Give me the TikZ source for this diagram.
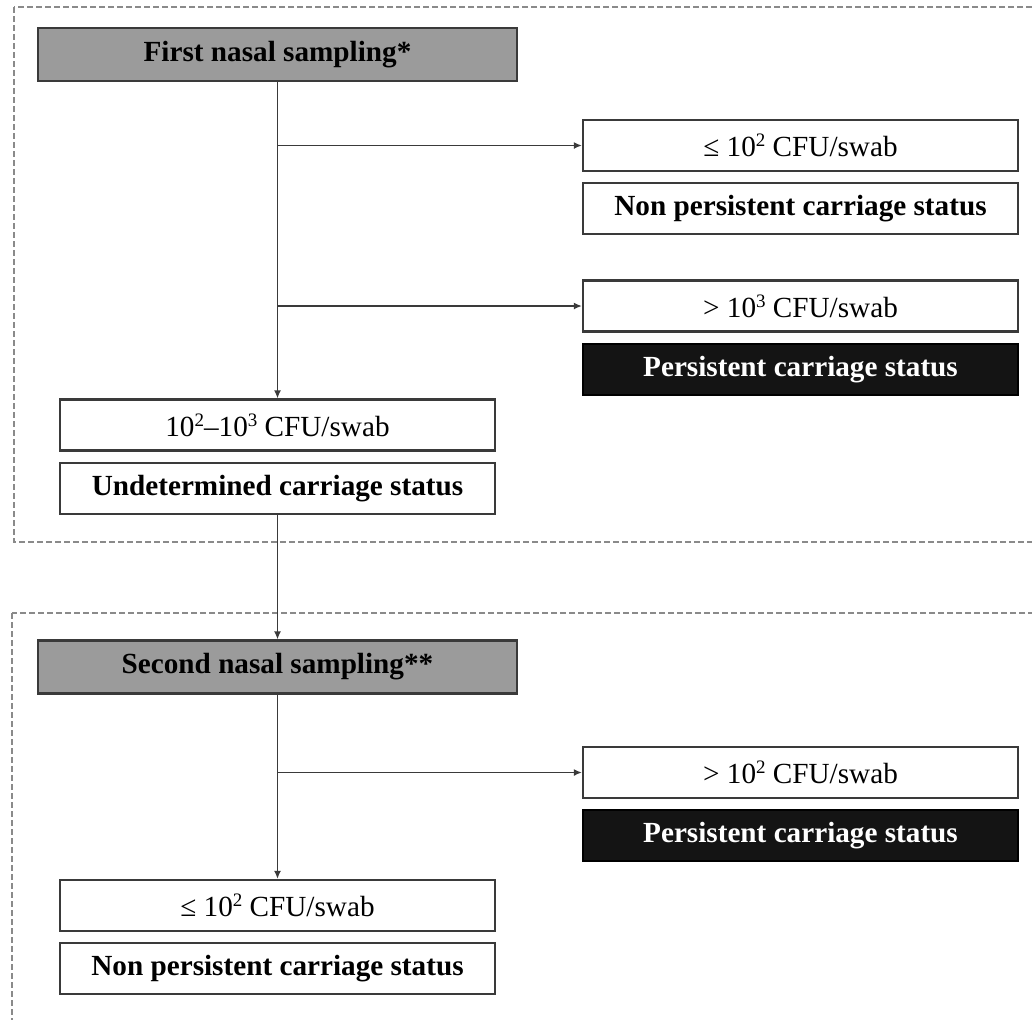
\documentclass[tikz,border=0pt]{standalone}
\usepackage{fontspec}
\setmainfont{Liberation Serif}
\usepackage{tikz}
\usetikzlibrary{arrows.meta,positioning,calc}
\definecolor{hdr}{HTML}{9B9B9B}
\definecolor{edge}{HTML}{3A3A3A}
\definecolor{frm}{HTML}{8A8A8A}
\tikzset{
  >={Latex[length=4pt,width=3.5pt]},
  box/.style={draw=edge,line width=1.1pt,minimum width=217.5pt,minimum height=25.5pt,inner sep=1pt,font=\fontsize{14.6}{16}\selectfont,align=center,fill=white},
  bbox/.style={box,font=\fontsize{14.6}{16}\selectfont\bfseries},
  hbox/.style={bbox,fill=hdr,minimum width=239.5pt,minimum height=26.5pt},
  kbox/.style={bbox,fill=black!92,draw=black,text=white},
  arr/.style={->,draw=edge,line width=0.9pt},
  frame/.style={draw=frm,line width=0.7pt,dash pattern=on 3pt off 1.5pt},
}
\newcommand{\pw}[1]{\raisebox{0.35em}{\fontsize{9.5}{10}\selectfont #1}}
\begin{document}
\begin{tikzpicture}[x=0.5pt,y=-0.5pt,node distance=5pt]
\clip (0,0) rectangle (1032,1019);
\fill[white] (0,0) rectangle (1032,1019);
% dashed frames
\draw[frame] (14,7) rectangle (1050,542);
\draw[frame] (12,613) rectangle (1050,1040);
% first sampling
\node[hbox] (first) at (277.5,54.5) {First nasal sampling*};
\node[box] (low1) at (800.5,145.5) {≤ 10\pw{2} CFU/swab};
\node[bbox,below=of low1] (non1) {Non persistent carriage status};
\node[box] (high1) at (800.5,306) {> 10\pw{3} CFU/swab};
\node[kbox,below=of high1] (pers1) {Persistent carriage status};
\node[box] (mid) at (277.5,425) {10\pw{2}–10\pw{3} CFU/swab};
\node[bbox,below=of mid] (und) {Undetermined carriage status};
\draw[arr] (first.south) -- (mid.north);
\draw[arr] (first.south |- low1.west) -- (low1.west);
\draw[arr] (first.south |- high1.west) -- (high1.west);
% second sampling
\node[hbox] (second) at (277.5,667) {Second nasal sampling**};
\node[box] (high2) at (800.5,772.5) {> 10\pw{2} CFU/swab};
\node[kbox,below=of high2] (pers2) {Persistent carriage status};
\node[box] (low2) at (277.5,905.5) {≤ 10\pw{2} CFU/swab};
\node[bbox,below=of low2] (non2) {Non persistent carriage status};
\draw[arr] (und.south) -- (second.north);
\draw[arr] (second.south) -- (low2.north);
\draw[arr] (second.south |- high2.west) -- (high2.west);
\end{tikzpicture}
\end{document}
